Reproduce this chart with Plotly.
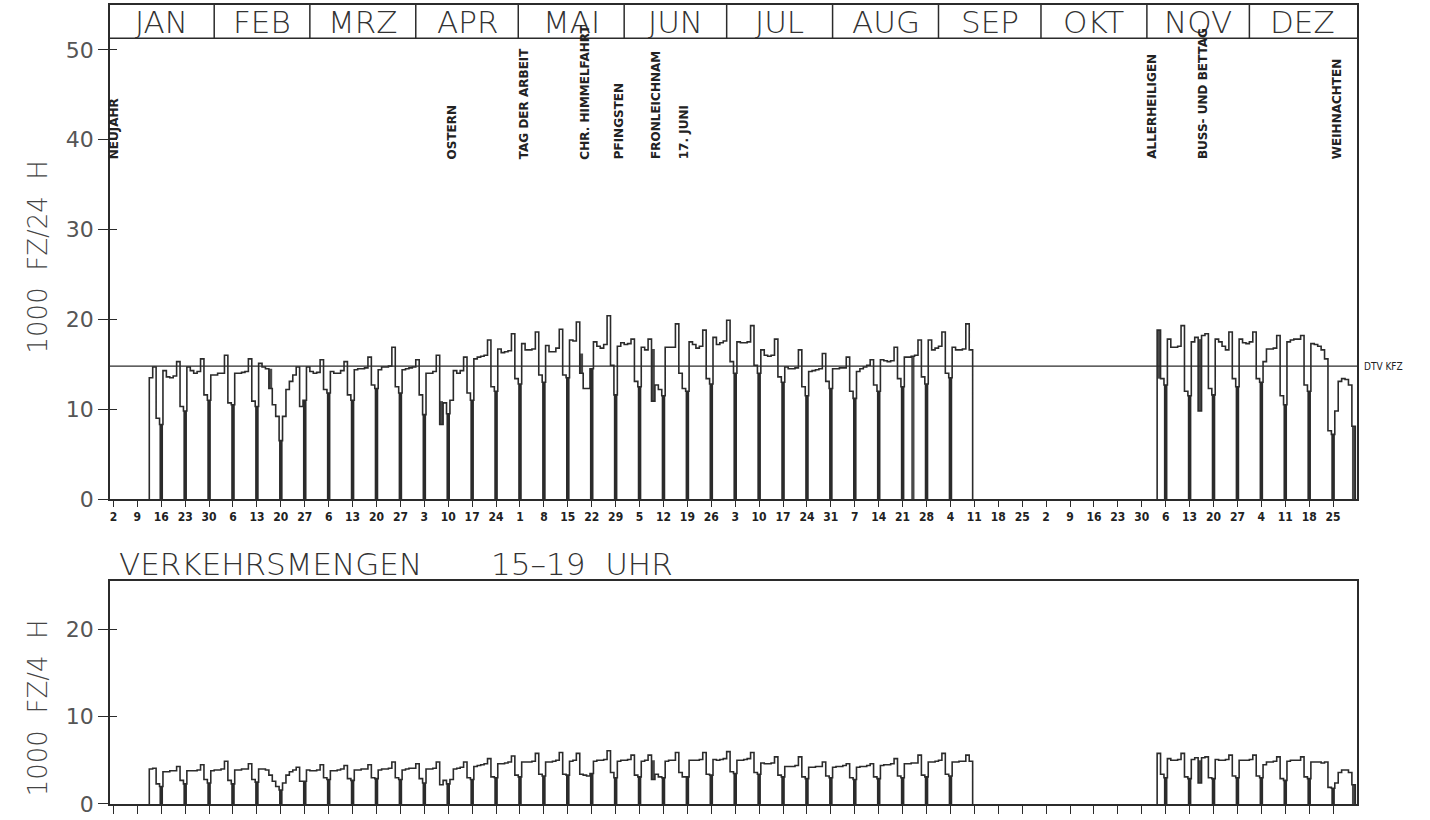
import plotly.graph_objects as go

# ---------------- data (year 1977, day index: Jan 1 = 0) ----------------
MONTHS = ["JAN", "FEB", "MRZ", "APR", "MAI", "JUN", "JUL", "AUG", "SEP", "OKT", "NOV", "DEZ"]
MONTH_DAYS = [31, 28, 31, 30, 31, 30, 31, 31, 30, 31, 30, 31]
TICK_LABELS = ["2", "9", "16", "23", "30", "6", "13", "20", "27", "6", "13", "20", "27",
               "3", "10", "17", "24", "1", "8", "15", "22", "29", "5", "12", "19", "26",
               "3", "10", "17", "24", "31", "7", "14", "21", "28", "4", "11", "18", "25",
               "2", "9", "16", "23", "30", "6", "13", "20", "27", "4", "11", "18", "25"]
FIRST_SUNDAY = 1  # Jan 2, 1977

HOLIDAY_NAMES = ["NEUJAHR", "OSTERN", "TAG DER ARBEIT", "CHR. HIMMELFAHRT", "PFINGSTEN",
                 "FRONLEICHNAM", "17. JUNI", "ALLERHEILIGEN", "BUSS- UND BETTAG", "WEIHNACHTEN"]
HOLIDAY_DAYS = [0, 99, 120, 138, 148, 159, 167, 304, 319, 358]

DTV_KFZ = 14.8

N = None
# 1000 Fz / 24 h, rows = weeks [So, Mo, Di, Mi, Do, Fr, Sa]
KFZ_24H_WEEKS = [
    [N, N, N, N, N, N, N],
    [N, N, N, N, 13.5, 14.7, 9.0],
    [8.3, 14.3, 13.6, 13.5, 13.7, 15.3, 10.3],
    [9.8, 14.7, 14.3, 14.0, 14.2, 15.6, 11.6],
    [11.0, 13.8, 13.8, 14.0, 14.0, 16.0, 10.7],
    [10.5, 14.0, 14.0, 14.1, 14.2, 15.6, 10.9],
    [10.3, 15.1, 14.7, 14.5, 12.3, 10.5, 9.2],
    [6.5, 9.2, 12.2, 13.1, 13.8, 14.7, 10.3],
    [11.0, 14.7, 14.2, 14.0, 14.1, 15.5, 12.2],
    [11.8, 14.2, 14.0, 14.0, 14.3, 15.3, 11.6],
    [11.0, 14.4, 14.5, 14.5, 14.6, 15.8, 12.7],
    [12.3, 14.4, 14.7, 14.7, 14.8, 16.9, 12.5],
    [11.8, 14.4, 14.5, 14.6, 14.7, 15.5, 11.6],
    [9.4, 14.0, 14.0, 14.2, 16.0, 8.3, 10.7],
    [9.5, 11.0, 14.3, 14.0, 14.3, 15.8, 11.8],
    [11.0, 15.6, 15.8, 15.9, 16.0, 17.7, 12.5],
    [12.0, 16.7, 16.3, 16.4, 16.5, 18.4, 13.4],
    [12.8, 17.3, 16.6, 16.6, 16.7, 18.6, 13.8],
    [13.0, 17.1, 16.4, 16.4, 16.8, 18.9, 13.8],
    [13.5, 17.7, 17.6, 19.7, 14.0, 12.3, 12.3],
    [14.5, 17.5, 17.0, 16.8, 17.2, 20.4, 14.9],
    [11.6, 17.0, 17.4, 17.2, 17.3, 17.8, 13.1],
    [12.5, 16.9, 16.6, 17.8, 10.9, 12.7, 12.2],
    [11.5, 16.9, 16.9, 16.9, 19.5, 14.0, 12.3],
    [12.0, 17.5, 17.2, 16.8, 17.0, 18.8, 13.4],
    [12.8, 18.0, 17.2, 17.4, 17.6, 19.9, 15.3],
    [14.0, 17.5, 17.4, 17.4, 17.5, 19.3, 14.9],
    [14.0, 16.6, 16.0, 15.9, 16.0, 17.8, 13.6],
    [13.0, 14.7, 14.5, 14.5, 14.6, 16.6, 12.5],
    [11.5, 14.2, 14.3, 14.4, 14.5, 16.2, 13.1],
    [12.3, 14.5, 14.5, 14.6, 14.6, 15.8, 12.0],
    [11.2, 14.2, 14.5, 14.7, 14.9, 15.5, 12.7],
    [12.0, 15.5, 15.4, 15.3, 15.4, 16.9, 13.4],
    [12.5, 15.8, 15.8, 15.9, 16.0, 17.7, 13.6],
    [12.8, 17.7, 16.6, 16.8, 17.0, 18.6, 14.0],
    [13.5, 16.9, 16.6, 16.6, 16.7, 19.5, 16.6],
    [N, N, N, N, N, N, N],
    [N, N, N, N, N, N, N],
    [N, N, N, N, N, N, N],
    [N, N, N, N, N, N, N],
    [N, N, N, N, N, N, N],
    [N, N, N, N, N, N, N],
    [N, N, N, N, N, N, N],
    [N, N, N, N, N, 18.8, 13.4],
    [12.7, 17.8, 16.9, 16.9, 17.0, 19.3, 12.0],
    [11.5, 17.5, 18.0, 9.8, 18.2, 18.4, 12.3],
    [11.6, 17.8, 17.5, 17.0, 16.6, 18.6, 13.4],
    [12.5, 17.8, 17.4, 17.3, 17.5, 18.6, 13.4],
    [13.0, 15.3, 16.7, 16.7, 16.8, 18.2, 11.5],
    [10.5, 17.5, 17.7, 17.8, 17.8, 18.2, 12.7],
    [12.0, 17.3, 17.2, 17.0, 16.6, 15.6, 7.6],
    [7.2, 9.8, 13.1, 13.4, 13.3, 12.7, 8.1],
]

# 1000 Fz / 4 h (15-19 Uhr), rows = weeks [So, Mo, Di, Mi, Do, Fr, Sa]
KFZ_4H_WEEKS = [
    [N, N, N, N, N, N, N],
    [N, N, N, N, 4.0, 4.1, 2.3],
    [2.0, 3.7, 3.7, 3.8, 3.8, 4.3, 2.7],
    [2.3, 3.8, 3.8, 3.8, 3.9, 4.5, 2.8],
    [2.4, 3.8, 3.9, 3.9, 4.0, 4.9, 2.7],
    [2.3, 3.9, 3.9, 4.0, 4.0, 4.6, 2.8],
    [2.5, 4.0, 4.0, 3.9, 3.3, 2.6, 2.0],
    [1.6, 2.4, 3.3, 3.7, 3.9, 4.2, 2.6],
    [2.6, 3.9, 3.8, 3.8, 3.9, 4.5, 3.0],
    [2.8, 3.8, 3.8, 3.9, 4.0, 4.4, 2.9],
    [2.7, 3.9, 3.9, 4.0, 4.0, 4.5, 3.0],
    [2.9, 3.9, 4.0, 4.0, 4.1, 4.8, 3.0],
    [2.8, 3.9, 4.0, 4.1, 4.1, 4.6, 2.9],
    [2.4, 4.0, 4.0, 4.1, 4.8, 2.2, 2.7],
    [2.3, 2.8, 4.0, 4.1, 4.2, 4.8, 3.0],
    [2.8, 4.3, 4.4, 4.5, 4.6, 5.2, 3.1],
    [3.0, 4.6, 4.6, 4.7, 4.8, 5.5, 3.3],
    [3.1, 4.8, 4.8, 4.8, 4.9, 5.8, 3.4],
    [3.2, 4.8, 4.8, 4.9, 5.0, 5.9, 3.4],
    [3.3, 4.9, 5.0, 5.8, 3.4, 3.3, 3.2],
    [3.5, 4.9, 5.0, 5.0, 5.1, 6.1, 3.6],
    [3.0, 4.9, 5.0, 5.0, 5.1, 5.6, 3.3],
    [3.1, 4.9, 5.0, 5.6, 2.8, 3.4, 3.1],
    [3.0, 4.9, 5.0, 5.0, 5.9, 3.6, 3.1],
    [3.1, 5.0, 5.0, 5.0, 5.1, 5.9, 3.4],
    [3.3, 5.1, 5.0, 5.1, 5.2, 6.0, 3.7],
    [3.5, 5.0, 5.0, 5.1, 5.2, 5.9, 3.6],
    [3.4, 4.7, 4.6, 4.6, 4.7, 5.4, 3.3],
    [3.1, 4.3, 4.3, 4.3, 4.4, 5.4, 3.1],
    [2.9, 4.2, 4.2, 4.3, 4.3, 4.8, 3.2],
    [3.0, 4.2, 4.3, 4.3, 4.4, 4.6, 3.0],
    [2.8, 4.2, 4.3, 4.3, 4.4, 4.6, 3.1],
    [2.9, 4.4, 4.5, 4.5, 4.6, 5.2, 3.2],
    [3.0, 4.6, 4.6, 4.7, 4.7, 5.6, 3.3],
    [3.1, 4.8, 4.8, 4.9, 5.0, 5.8, 3.4],
    [3.2, 4.8, 4.8, 4.9, 4.9, 5.6, 4.9],
    [N, N, N, N, N, N, N],
    [N, N, N, N, N, N, N],
    [N, N, N, N, N, N, N],
    [N, N, N, N, N, N, N],
    [N, N, N, N, N, N, N],
    [N, N, N, N, N, N, N],
    [N, N, N, N, N, N, N],
    [N, N, N, N, N, 5.8, 3.4],
    [3.0, 5.2, 5.0, 5.0, 5.1, 5.8, 3.1],
    [2.9, 5.1, 5.3, 2.4, 5.3, 5.4, 3.0],
    [2.9, 5.1, 5.0, 5.0, 5.1, 5.6, 3.2],
    [3.0, 5.0, 5.0, 5.0, 5.1, 5.6, 3.2],
    [3.0, 4.5, 4.8, 4.8, 4.9, 5.4, 2.9],
    [2.7, 4.9, 5.0, 5.0, 5.0, 5.4, 3.1],
    [2.9, 4.8, 4.8, 4.8, 4.7, 4.8, 1.9],
    [1.8, 2.4, 3.6, 3.9, 3.9, 3.6, 2.2],
]

# hatched (special) days: day index, lower and upper value
SPECIAL_24H_DAYS = [47, 97, 138, 159, 235, 307, 319, 364]
SPECIAL_24H_LOW = [12.3, 8.3, 14.0, 10.9, 0.0, 13.4, 9.8, 0.0]
SPECIAL_24H_HIGH = [14.5, 10.9, 16.2, 16.7, 15.9, 18.8, 17.8, 8.1]
SPECIAL_4H_DAYS = [159, 319, 364]
SPECIAL_4H_LOW = [2.8, 2.4, 0.0]
SPECIAL_4H_HIGH = [5.0, 5.0, 2.2]

# ---------------- helpers ----------------
INK = "#2b2b2b"


def flatten(weeks):
    days, vals = [], []
    for w, row in enumerate(weeks):
        for k, v in enumerate(row):
            days.append(FIRST_SUNDAY + 7 * w + k)
            vals.append(v)
    return days, vals


def step_path(days, vals):
    xs, ys = [], []
    prev = None
    for d, v in zip(days, vals):
        if v is None:
            if prev is not None:
                xs += [d - 0.5, d - 0.5, None]
                ys += [prev, 0, None]
                prev = None
            continue
        if prev is None:
            xs.append(d - 0.5)
            ys.append(0)
        xs.append(d - 0.5)
        ys.append(v)
        prev = v
    if prev is not None:
        xs += [days[-1] + 0.5, days[-1] + 0.5]
        ys += [prev, 0]
    return xs, ys


def sundays(days, vals):
    sx, sy = [], []
    for i, (d, v) in enumerate(zip(days, vals)):
        if i % 7 == 0 and v is not None:
            sx.append(d)
            sy.append(v)
    return sx, sy


fig = go.Figure()

panels = [
    (KFZ_24H_WEEKS, SPECIAL_24H_DAYS, SPECIAL_24H_LOW, SPECIAL_24H_HIGH, "x", "y"),
    (KFZ_4H_WEEKS, SPECIAL_4H_DAYS, SPECIAL_4H_LOW, SPECIAL_4H_HIGH, "x2", "y2"),
]
for weeks, sp_d, sp_lo, sp_hi, xa, ya in panels:
    d, v = flatten(weeks)
    sx, sy = sundays(d, v)
    fig.add_trace(go.Bar(x=sx, y=sy, width=1.05, marker=dict(color=INK, line_width=0),
                         xaxis=xa, yaxis=ya, showlegend=False, hoverinfo="skip"))
    fig.add_trace(go.Bar(x=sp_d, y=[h - l for l, h in zip(sp_lo, sp_hi)], base=sp_lo,
                         width=0.95, marker=dict(color="#4a4a4a", line_width=0),
                         xaxis=xa, yaxis=ya, showlegend=False, hoverinfo="skip"))
    px, py = step_path(d, v)
    fig.add_trace(go.Scatter(x=px, y=py, mode="lines", line=dict(color=INK, width=1.6, shape="hv"),
                             connectgaps=False, xaxis=xa, yaxis=ya, showlegend=False,
                             hoverinfo="skip"))

# invisible traces for overlay axes (inner half of y ticks)
fig.add_trace(go.Scatter(x=[0], y=[0], mode="markers", marker=dict(opacity=0),
                         xaxis="x", yaxis="y3", showlegend=False, hoverinfo="skip"))
fig.add_trace(go.Scatter(x=[0], y=[0], mode="markers", marker=dict(opacity=0),
                         xaxis="x2", yaxis="y4", showlegend=False, hoverinfo="skip"))

TOP_RANGE = [0, 55]
HEADER_LINE = 51.3
BOT_RANGE = [0, 25.5]
sunday_ticks = [FIRST_SUNDAY + 7 * i for i in range(len(TICK_LABELS))]

axis_common = dict(showline=True, linecolor=INK, linewidth=1.5, mirror=True, showgrid=False,
                   zeroline=False, ticks="outside", tickcolor=INK, tickwidth=1.3)

fig.update_layout(
    width=1430, height=820,
    margin=dict(l=110, r=73, t=3, b=10),
    paper_bgcolor="white", plot_bgcolor="white",
    barmode="overlay",
    xaxis=dict(**axis_common, domain=[0, 1], anchor="y", range=[0, 365],
               tickmode="array", tickvals=sunday_ticks, ticktext=TICK_LABELS, ticklen=6,
               tickfont=dict(family="DejaVu Sans Condensed, DejaVu Sans", size=12, color="#222",
                             weight=700)),
    yaxis=dict(**axis_common, domain=[0.3817, 1], anchor="x", range=TOP_RANGE,
               tickmode="array", tickvals=[0, 10, 20, 30, 40, 50], ticklen=10,
               tickfont=dict(family="DejaVu Sans", size=22, color="#555")),
    xaxis2=dict(**axis_common, domain=[0, 1], anchor="y2", range=[0, 365],
                tickmode="array", tickvals=sunday_ticks, ticklen=8, showticklabels=False),
    yaxis2=dict(**axis_common, domain=[0, 0.2788], anchor="x2", range=BOT_RANGE,
                tickmode="array", tickvals=[0, 10, 20], ticklen=10,
                tickfont=dict(family="DejaVu Sans", size=22, color="#555")),
    yaxis3=dict(overlaying="y", range=TOP_RANGE, tickmode="array", tickvals=[10, 20, 30, 40, 50],
                ticks="inside", ticklen=7, tickcolor=INK, tickwidth=1.3, showticklabels=False,
                showgrid=False, zeroline=False, showline=False),
    yaxis4=dict(overlaying="y2", range=BOT_RANGE, tickmode="array", tickvals=[10, 20],
                ticks="inside", ticklen=7, tickcolor=INK, tickwidth=1.3, showticklabels=False,
                showgrid=False, zeroline=False, showline=False),
)

shapes = []
annotations = []

# month header
shapes.append(dict(type="line", xref="x domain", yref="y", x0=0, x1=1, y0=HEADER_LINE, y1=HEADER_LINE,
                   line=dict(color=INK, width=1.5)))
start = 0
for name, nd in zip(MONTHS, MONTH_DAYS):
    if start > 0:
        shapes.append(dict(type="line", xref="x", yref="y", x0=start - 0.5, x1=start - 0.5,
                           y0=HEADER_LINE, y1=TOP_RANGE[1], line=dict(color=INK, width=1.5)))
    annotations.append(dict(text=name, xref="x", yref="y", x=start + nd / 2 - 0.5,
                            y=(HEADER_LINE + TOP_RANGE[1]) / 2, showarrow=False,
                            font=dict(family="DejaVu Sans", size=31, color="#333", weight=200)))
    start += nd

# DTV line
shapes.append(dict(type="line", xref="x domain", yref="y", x0=0, x1=1, y0=DTV_KFZ, y1=DTV_KFZ,
                   line=dict(color=INK, width=1.3)))
annotations.append(dict(text="DTV KFZ", xref="x domain", yref="y", x=1.004, y=DTV_KFZ,
                        xanchor="left", yanchor="middle", showarrow=False,
                        font=dict(family="DejaVu Sans Condensed, DejaVu Sans", size=10, color="#222")))

# holiday labels
for name, d in zip(HOLIDAY_NAMES, HOLIDAY_DAYS):
    annotations.append(dict(text=name, xref="x", yref="y", x=d + 1, y=37.6, textangle=-90,
                            xanchor="center", yanchor="bottom", showarrow=False,
                            font=dict(family="DejaVu Sans", size=12, color="#222", weight=700)))

# axis titles
annotations.append(dict(text="1000\u00a0\u00a0FZ/24\u00a0\u00a0H", xref="paper", yref="y domain",
                        x=-0.0577, y=0.489, textangle=-90, showarrow=False,
                        xanchor="center", yanchor="middle",
                        font=dict(family="DejaVu Sans", size=26, color="#444", weight=300)))
annotations.append(dict(text="1000\u00a0\u00a0FZ/4\u00a0\u00a0H", xref="paper", yref="y2 domain",
                        x=-0.0577, y=0.43, textangle=-90, showarrow=False,
                        xanchor="center", yanchor="middle",
                        font=dict(family="DejaVu Sans", size=26, color="#444", weight=300)))

# lower panel title
annotations.append(dict(text="VERKEHRSMENGEN" + "\u00a0" * 7 + "15\u201319\u00a0\u00a0UHR",
                        xref="paper", yref="paper", x=0.0056, y=0.2999,
                        xanchor="left", yanchor="middle", showarrow=False,
                        font=dict(family="DejaVu Sans", size=31, color="#333", weight=200)))

fig.update_layout(shapes=shapes, annotations=annotations)

fig.write_html("out.html", config={"displayModeBar": False},
               post_script="document.body.style.margin='0';document.body.style.padding='0';")
